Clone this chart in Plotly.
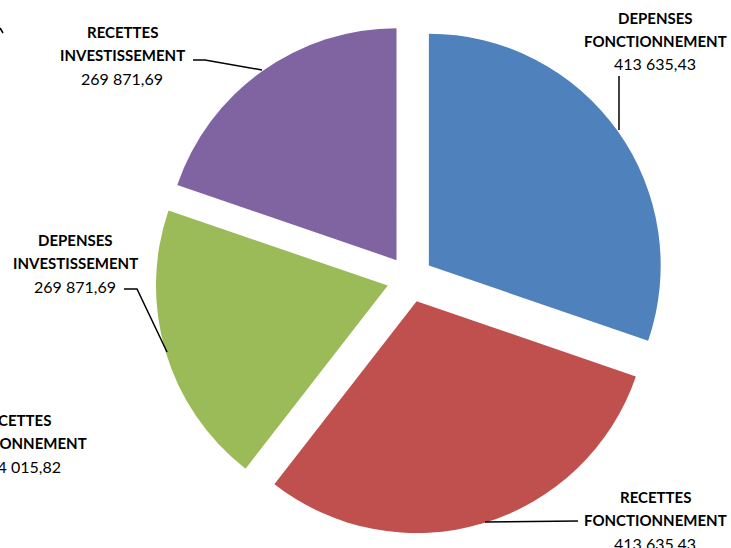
import plotly.graph_objects as go

categories = ["DEPENSES<br>FONCTIONNEMENT", "RECETTES<br>FONCTIONNEMENT",
              "DEPENSES<br>INVESTISSEMENT", "RECETTES<br>INVESTISSEMENT"]
label_top = ["DEPENSES", "RECETTES", "DEPENSES", "RECETTES"]
label_mid = ["FONCTIONNEMENT", "FONCTIONNEMENT", "INVESTISSEMENT", "INVESTISSEMENT"]
values = [413635.43, 413635.43, 269871.69, 269871.69]
value_text = ["413 635,43", "413 635,43", "269 871,69", "269 871,69"]
colors = ["#4F81BD", "#C0504D", "#9BBB59", "#8064A2"]
pulls = [0.1, 0.1, 0.1, 0.1]

# cut-off label of a neighbouring chart, visible at the left edge
extra_label = ["RECETTES", "FONCTIONNEMENT", "414 015,82"]

W, H = 731, 548


def px(x):
    return x / W


def py(y):
    return 1 - y / H


fig = go.Figure()
fig.add_trace(go.Pie(
    labels=categories, values=values, sort=False, direction="clockwise",
    rotation=0, pull=pulls, textinfo="none", hoverinfo="label+value",
    marker=dict(colors=colors, line=dict(color="white", width=0)),
    domain=dict(x=[px(155), px(665)], y=[py(534), py(24)]),
    showlegend=False,
))

# label block centres (pixel) : x centre, y of first line
label_pos = [(655, 18), (655, 497), (75, 240), (122, 32)]
font_b = dict(family="Lato", size=15, color="black")
font_n = dict(family="Lato", size=16, color="black")
ann = []
for (cx, cy), t, m, v in zip(label_pos, label_top, label_mid, value_text):
    for i, (txt, bold) in enumerate([(t, True), (m, True), (v, False)]):
        ann.append(dict(
            x=px(cx), y=py(cy + i * 23), xref="paper", yref="paper",
            text=f"<b>{txt}</b>" if bold else txt, showarrow=False,
            xanchor="center", yanchor="middle",
            font=font_b if bold else font_n))
extra_x = [15, 15, 20]
for i, txt in enumerate(extra_label):
    ann.append(dict(
        x=px(extra_x[i]), y=py(420 + i * 23), xref="paper", yref="paper",
        text=f"<b>{txt}</b>" if i < 2 else txt, showarrow=False,
        xanchor="center", yanchor="middle",
        font=font_b if i < 2 else font_n))

# leader lines (pixel paths)
leaders = [
    [(619, 76), (619, 130)],
    [(578, 521), (485, 522)],
    [(124, 289), (137, 289), (167, 352)],
    [(193, 60), (205, 60), (262, 70)],
    [(0, 28), (3, 33)],
]
shapes = []
for pts in leaders:
    path = "M " + " L ".join(f"{px(x)},{py(y)}" for x, y in pts)
    shapes.append(dict(type="path", path=path, xref="paper", yref="paper",
                       line=dict(color="black", width=1.5)))

fig.update_layout(
    width=W, height=H, margin=dict(l=0, r=0, t=0, b=0),
    paper_bgcolor="white", plot_bgcolor="white",
    annotations=ann, shapes=shapes,
)
fig.write_html("out.html", config={"displayModeBar": False},
               post_script="document.body.style.margin='0';")
